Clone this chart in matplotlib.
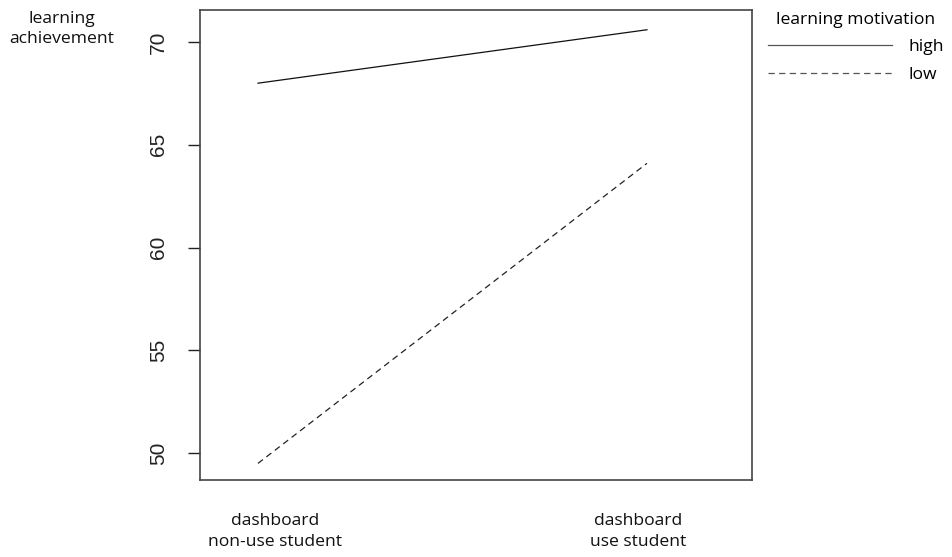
import matplotlib.pyplot as plt

groups = ["dashboard\nnon-use student", "dashboard\nuse student"]
group_x = [1, 2]
label_x = [1.044, 1.977]          # where the group names sit under the plot
high = [68.0, 70.6]
low = [49.5, 64.1]
yticks = [50, 55, 60, 65, 70]

txt_font = ["Open Sans", "DejaVu Sans"]
num_font = "Liberation Sans"
fs = 12.6

fig = plt.figure(figsize=(9.52, 5.57), dpi=100)
ax = fig.add_axes([0.2101, 0.1382, 0.5798, 0.8438])

l_high, = ax.plot(group_x, high, color="#111111", lw=0.9, ls="-")
l_low, = ax.plot(group_x, low, color="#222222", lw=0.9, ls=(0, (5, 3.5)))

ax.set_xlim(0.851, 2.27)
ax.set_ylim(48.69, 71.56)

ax.set_yticks(yticks)
ax.set_yticklabels([str(v) for v in yticks], rotation=90, va="center",
                   family=num_font, fontsize=15, color="#222222")
ax.tick_params(axis="y", length=9, width=1.0, pad=14, color="#222222")

ax.set_xticks(label_x)
ax.set_xticklabels(groups, family=txt_font, fontsize=fs, color="#111111",
                   linespacing=1.4)
ax.tick_params(axis="x", length=0, pad=24)

for s in ax.spines.values():
    s.set_color("#444444")
    s.set_linewidth(1.2)

fig.text(62 / 952, 1 - 11 / 557, "learning\nachievement", ha="center", va="top",
         family=txt_font, fontsize=fs, color="#111111", linespacing=1.35)

leg = fig.legend([l_high, l_low], ["high", "low"], title="learning motivation",
                 loc="upper left", bbox_to_anchor=(768 / 952, 1 - 12 / 557),
                 frameon=False, borderpad=0, borderaxespad=0,
                 handlelength=7.1, handletextpad=0.9, labelspacing=0.65,
                 prop={"family": txt_font, "size": fs},
                 title_fontproperties={"family": txt_font, "size": fs})
leg._legend_box.sep = 8
for h in leg.get_lines():
    h.set_color("#555555")

fig.savefig("out.png", dpi=100)
